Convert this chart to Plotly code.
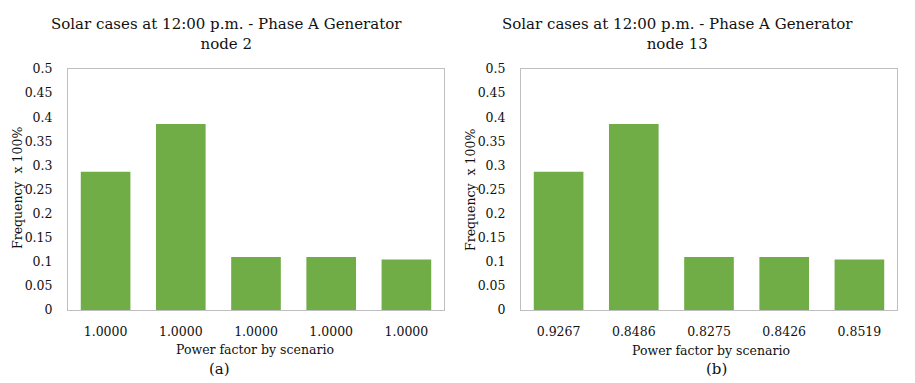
import plotly.graph_objects as go

# Data
scenario_idx = [0, 1, 2, 3, 4]
labels_node2 = ["1.0000", "1.0000", "1.0000", "1.0000", "1.0000"]
labels_node13 = ["0.9267", "0.8486", "0.8275", "0.8426", "0.8519"]
freq_node2 = [0.287, 0.386, 0.110, 0.110, 0.105]
freq_node13 = [0.287, 0.386, 0.110, 0.110, 0.105]
y_ticks = [0, 0.05, 0.1, 0.15, 0.2, 0.25, 0.3, 0.35, 0.4, 0.45, 0.5]
y_ticktext = ["0", "0.05", "0.1", "0.15", "0.2", "0.25", "0.3", "0.35", "0.4", "0.45", "0.5"]

FONT = "DejaVu Serif"
GREEN = "#70ad47"
TXT = "#111"
OFF = 8  # page body margin
W, H = 915 - OFF, 383 - OFF

def px(x):
    return (x - OFF) / W

def py(y):
    return 1 - (y - OFF) / H

fig = go.Figure()
fig.add_trace(go.Bar(x=scenario_idx, y=freq_node2, marker=dict(color=GREEN, line=dict(width=0)),
                     xaxis="x", yaxis="y", showlegend=False))
fig.add_trace(go.Bar(x=scenario_idx, y=freq_node13, marker=dict(color=GREEN, line=dict(width=0)),
                     xaxis="x2", yaxis="y2", showlegend=False))

def xax(domain, anchor, ticktext):
    return dict(domain=domain, anchor=anchor, range=[-0.5, 4.5], tickvals=scenario_idx,
                ticktext=ticktext, showgrid=False, zeroline=False, showline=True,
                linecolor="#bfbfbf", linewidth=1, mirror=True, ticks="", automargin=False,
                ticklabelstandoff=10, tickfont=dict(family=FONT, size=12.5, color=TXT))

def yax(domain, anchor):
    return dict(domain=domain, anchor=anchor, range=[0, 0.5], tickvals=y_ticks, ticktext=y_ticktext,
                showgrid=False, zeroline=False, showline=True, linecolor="#bfbfbf", linewidth=1,
                mirror=True, ticks="", ticklabelstandoff=12, automargin=False,
                tickfont=dict(family=FONT, size=12.5, color=TXT))

ydom = [py(310), py(69)]
fig.update_layout(
    template="none",
    width=W, height=H, margin=dict(l=0, r=0, t=0, b=0, autoexpand=False),
    paper_bgcolor="white", plot_bgcolor="white", bargap=0.34,
    xaxis=xax([px(68), px(444)], "y", labels_node2),
    yaxis=yax(ydom, "x"),
    xaxis2=xax([px(521), px(897)], "y2", labels_node13),
    yaxis2=yax(ydom, "x2"),
)

def ann(text, x, y, size=13, angle=0):
    fig.add_annotation(text=text, x=px(x), y=py(y), xref="paper", yref="paper",
                       showarrow=False, textangle=angle, xanchor="center", yanchor="middle",
                       font=dict(family=FONT, size=size, color=TXT))

# Titles
ann("Solar cases at 12:00 p.m. - Phase A Generator<br>node 2", 226, 34, size=15)
ann("Solar cases at 12:00 p.m. - Phase A Generator<br>node 13", 677, 34, size=15)
# Axis titles
ann("Power factor by scenario", 255, 349, size=12.5)
ann("Power factor by scenario", 711, 350, size=12.5)
ann("Frequency  x 100%", 17, 188, size=12.5, angle=-90)
ann("Frequency  x 100%", 470, 190, size=12.5, angle=-90)
# Panel labels
ann("(a)", 219, 369, size=15)
ann("(b)", 716, 369, size=15)

fig.write_html("out.html")
